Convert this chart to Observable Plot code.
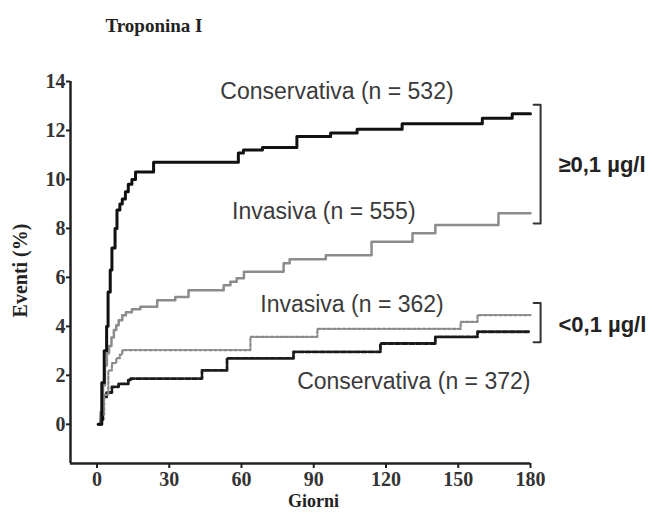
<!DOCTYPE html>
<html>
<head>
<meta charset="utf-8">
<script src="https://cdn.jsdelivr.net/npm/d3@7"></script>
<script src="https://cdn.jsdelivr.net/npm/@observablehq/plot@0.6"></script>
<style>
  html, body { margin: 0; padding: 0; background: #fff; }
  svg { display: block; }
</style>
</head>
<body>
<div id="chart"></div>
<script>
// ---- data ----
const title = "Troponina I";
const xLabel = "Giorni";
const yLabel = "Eventi (%)";
const xTicks = [0, 30, 60, 90, 120, 150, 180];
const yTicks = [0, 2, 4, 6, 8, 10, 12, 14];

// Conservativa, troponina >= 0,1 (n = 532)
const consHighDays = [0.5, 2, 3, 4, 4.6, 5.5, 6.2, 7.5, 8.3, 9.5, 10.5, 11.8, 13, 14.5, 16, 23.5, 58.7, 60.8, 68.7, 83, 97, 108, 126.7, 160, 172.4, 180];
const consHighVals = [0, 1.7, 3.0, 4.0, 5.4, 6.3, 7.2, 8.0, 8.75, 9.0, 9.2, 9.5, 9.8, 10.0, 10.3, 10.7, 11.08, 11.2, 11.3, 11.75, 11.9, 12.05, 12.27, 12.5, 12.68, 12.68];
// Invasiva, troponina >= 0,1 (n = 555)
const invHighDays = [0.5, 1.5, 2.5, 3.3, 4.1, 5, 6, 7, 8, 9, 10.5, 12, 14.5, 18, 25, 32.5, 38, 52.6, 55.4, 58, 61, 77.5, 80, 95, 114, 131, 140.5, 166.7, 180];
const invHighVals = [0, 0.5, 1.6, 2.4, 2.9, 3.2, 3.55, 3.85, 4.05, 4.25, 4.45, 4.58, 4.7, 4.8, 5.07, 5.2, 5.48, 5.68, 5.82, 5.97, 6.23, 6.58, 6.74, 6.9, 7.46, 7.8, 8.14, 8.62, 8.62];
// Invasiva, troponina < 0,1 (n = 362)
const invLowDays = [0.5, 1.5, 3, 4.7, 6.2, 8, 9.5, 10.5, 63.7, 91.5, 151, 158, 180];
const invLowVals = [0, 0.4, 1.2, 2.2, 2.5, 2.7, 2.85, 3.03, 3.57, 3.9, 4.18, 4.46, 4.46];
// Conservativa, troponina < 0,1 (n = 372)
const consLowDays = [0.5, 1.5, 2.5, 4, 6.2, 9, 13, 14, 43.6, 54, 81.6, 117.7, 140.5, 158, 180];
const consLowVals = [0, 0.2, 1.12, 1.3, 1.53, 1.65, 1.8, 1.87, 2.2, 2.69, 2.96, 3.3, 3.57, 3.78, 3.78];

const seriesLabels = ["Conservativa (n = 532)", "Invasiva (n = 555)", "Invasiva (n = 362)", "Conservativa (n = 372)"];
const labelDays = [51.2, 56.1, 67.8, 83.1];
const labelVals = [13.58, 8.68, 4.87, 1.73];

const bracketLabels = ["\u22650,1 \u00b5g/l", "<0,1 \u00b5g/l"];
const bracketTop = [13.05, 4.95];
const bracketBottom = [8.2, 3.35];
const bracketLabelVals = [10.6, 4.05];
const bracketDay = 184.2;
const bracketTickDay = 181.3;
const bracketLabelDay = 191.6;

// ---- tables built from the arrays ----
const toRows = (days, vals) => days.map((d, i) => ({day: d, value: vals[i]}));
const consHigh = toRows(consHighDays, consHighVals);
const invHigh = toRows(invHighDays, invHighVals);
const invLow = toRows(invLowDays, invLowVals);
const consLow = toRows(consLowDays, consLowVals);
const labels = seriesLabels.map((t, i) => ({text: t, day: labelDays[i], value: labelVals[i]}));
const brackets = bracketLabels.flatMap((t, i) => [
  {g: i, day: bracketTickDay, value: bracketTop[i]},
  {g: i, day: bracketDay, value: bracketTop[i]},
  {g: i, day: bracketDay, value: bracketBottom[i]},
  {g: i, day: bracketTickDay, value: bracketBottom[i]}
]);
const bracketText = bracketLabels.map((t, i) => ({text: t, day: bracketLabelDay, value: bracketLabelVals[i]}));

const serif = "'Liberation Serif', 'Times New Roman', serif";
const sans = "'Liberation Sans', Arial, sans-serif";
const xMin = -11, yMin = -1.6, yMax = 14;

const chart = Plot.plot({
  width: 654,
  height: 513,
  marginLeft: 70,
  marginRight: 124,
  marginTop: 81,
  marginBottom: 50,
  x: {domain: [xMin, 180]},
  y: {domain: [yMin, yMax]},
  style: {background: "#fff", color: "#222"},
  marks: [
    Plot.axisX({ticks: xTicks, tickSize: 5, tickPadding: 3, strokeWidth: 2, fontSize: 20, fontFamily: serif, fontWeight: "bold", label: null, fill: "#333"}),
    Plot.axisY({ticks: yTicks, tickSize: 4, tickPadding: 1, strokeWidth: 2, fontSize: 20, fontFamily: serif, fontWeight: "bold", label: null, fill: "#333"}),
    Plot.ruleY([yMin], {x1: xMin, x2: 180, stroke: "#222", strokeWidth: 2.5}),
    Plot.ruleX([xMin], {y1: yMin, y2: yMax, stroke: "#222", strokeWidth: 2.5}),
    Plot.line(consLow, {x: "day", y: "value", curve: "step-after", stroke: "#1a1a1a", strokeWidth: 2.8, strokeDasharray: "5,2"}),
    Plot.line(invLow, {x: "day", y: "value", curve: "step-after", stroke: "#8a8a8a", strokeWidth: 2.2, strokeDasharray: "3,2"}),
    Plot.line(invHigh, {x: "day", y: "value", curve: "step-after", stroke: "#8c8c8c", strokeWidth: 2.5}),
    Plot.line(consHigh, {x: "day", y: "value", curve: "step-after", stroke: "#111", strokeWidth: 3}),
    Plot.line(brackets, {x: "day", y: "value", z: "g", stroke: "#333", strokeWidth: 2}),
    Plot.text(labels, {x: "day", y: "value", text: "text", textAnchor: "start", fontSize: 23, fontFamily: sans, fill: "#3a3a3a"}),
    Plot.text(bracketText, {x: "day", y: "value", text: "text", textAnchor: "start", fontSize: 22, fontFamily: sans, fontWeight: "bold", fill: "#222"}),
    Plot.text([title], {frameAnchor: "top-left", dx: 35, dy: -56, lineAnchor: "middle", textAnchor: "start", fontSize: 19, fontFamily: serif, fontWeight: "bold", fill: "#222"}),
    Plot.text([yLabel], {frameAnchor: "left", dx: -50, dy: -2, rotate: -90, lineAnchor: "middle", textAnchor: "middle", fontSize: 20, fontFamily: serif, fontWeight: "bold", fill: "#222"}),
    Plot.text([xLabel], {frameAnchor: "bottom", dx: 13, dy: 38, lineAnchor: "middle", textAnchor: "middle", fontSize: 18, fontFamily: serif, fontWeight: "bold", fill: "#222"})
  ]
});
document.getElementById("chart").appendChild(chart);
</script>
</body>
</html>
